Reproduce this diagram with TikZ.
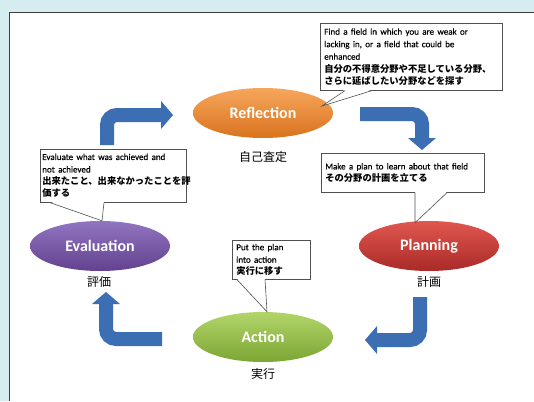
\documentclass[tikz,border=0pt]{standalone}
\usepackage{fontspec}
\setmainfont{Carlito}
\newfontfamily\ennote[FakeBold=0.4]{Carlito}
\newfontfamily\jp{Noto Sans CJK JP}
\usepackage{tikz}
\usetikzlibrary{calc,arrows.meta}
\usetikzlibrary{shapes.geometric}
\usetikzlibrary{positioning}

\definecolor{panelblue}{HTML}{D5ECF1}
\definecolor{cycblue}{HTML}{3C6EB4}
\definecolor{notegray}{HTML}{505050}

\newcommand{\entxt}{\ennote\fontsize{9}{12.5}\selectfont}
\newcommand{\jptxt}{\jp\bfseries\fontsize{9.3}{12.5}\selectfont}

\begin{document}
\begin{tikzpicture}[x=1pt, y=-1pt,
  ell/.style={ellipse, minimum width=140pt, minimum height=50pt, inner sep=0pt,
    text=white, font=\fontsize{16}{18}\selectfont\bfseries},
  note/.style={draw=notegray, line width=0.6pt, fill=white, anchor=north west,
    align=left, inner xsep=4pt, inner ysep=3pt},
  jlab/.style={font=\jp\fontsize{12}{14}\selectfont, inner sep=0pt},
  cyc/.style={draw=cycblue, line width=14pt, rounded corners=10pt,
    -{Triangle[length=12pt, width=28pt, line width=0pt]}}]

%% page and panel
\useasboundingbox (0,0) rectangle (534,401);
\fill[panelblue] (0,0) rectangle (534,401);
\fill[white] (9,12) rectangle (534,401);
\draw[black!75, line width=0.8pt] (534,12) -- (9,12) -- (9,401);

%% the four stages
\node[ell, top color={rgb,255:red,246;green,166;blue,92}, middle color={rgb,255:red,238;green,138;blue,48},
  bottom color={rgb,255:red,217;green,115;blue,30}] (refl) at (263,113) {Reflection};
\node[ell, top color={rgb,255:red,224;green,87;blue,79}, middle color={rgb,255:red,209;green,60;blue,54},
  bottom color={rgb,255:red,169;green,42;blue,40}] (plan) at (429,246) {Planning};
\node[ell, top color={rgb,255:red,146;green,117;blue,192}, middle color={rgb,255:red,125;green,88;blue,170},
  bottom color={rgb,255:red,98;green,65;blue,142}] (eval) at (100,246) {Evaluation};
\node[ell, top color={rgb,255:red,178;green,213;blue,106}, middle color={rgb,255:red,154;green,196;blue,74},
  bottom color={rgb,255:red,124;green,166;blue,51}] (act) at (263,337) {Action};

\node[jlab] (reflj) at (263,157) {自己査定};
\node[jlab] (planj) at (429,282) {計画};
\node[jlab] (evalj) at (99,282) {評価};
\node[jlab] (actj) at (263,374) {実行};

%% cycle arrows
\coordinate (c1a) at (107,145);
\coordinate (c1b) at (173,115);
\coordinate (c2a) at (360,114);
\coordinate (c2b) at (422,150);
\coordinate (c3a) at (420,297);
\coordinate (c3b) at (365,340);
\coordinate (c4a) at (162,339);
\coordinate (c4b) at (106,292);
\draw[cyc] (c1a) |- (c1b);
\draw[cyc] (c2a) -| (c2b);
\draw[cyc] (c3a) |- (c3b);
\draw[cyc] (c4a) -| (c4b);

%% notes
\node[note, text width=174pt, minimum height=67pt] (reflbox) at (320,23)
  {\entxt Find a field in which you are weak or\\ lacking in, or a field that could be\\ enhanced\\
   \jptxt 自分の不得意分野や不足している分野、\\ さらに延ばしたい分野などを探す};
\node[note, text width=142pt, inner xsep=2pt, minimum height=53pt] (evalbox) at (40,149)
  {\entxt Evaluate what was achieved and\\ not achieved\\
   \jptxt 出来たこと、出来なかったことを評\\ 価する};
\node[note, text width=155pt, minimum height=39pt] (planbox) at (321,153)
  {\entxt Make a plan to learn about that field\\ \jptxt その分野の計画を立てる};
\node[note, text width=70pt, minimum height=39pt] (actbox) at (232,240)
  {\entxt Put the plan\\ into action\\ \jptxt 実行に移す};

\coordinate (refltip) at ($(refl.center)+(59,-7)$);
\coordinate (reflb1) at ($(reflbox.south west)+(25,0)$);
\coordinate (reflb2) at ($(reflbox.south west)+(52,0)$);
\coordinate (evaltip) at ($(eval.north)+(2,0)$);
\coordinate (evalb1) at ($(evalbox.south west)+(10,0)$);
\coordinate (evalb2) at ($(evalbox.south west)+(64,0)$);
\coordinate (plantip) at ($(plan.north)+(-14,2)$);
\coordinate (planb1) at ($(planbox.south west)+(94,0)$);
\coordinate (planb2) at ($(planbox.south west)+(126,0)$);
\coordinate (acttip) at ($(act.north)+(4,0)$);
\coordinate (actb1) at ($(actbox.south west)+(5,0)$);
\coordinate (actb2) at ($(actbox.south west)+(33,0)$);

\foreach \s in {refl,eval,plan,act}{
  \fill[white] ($(\s b1)+(0,-1)$) -- (\s tip) -- ($(\s b2)+(0,-1)$) -- cycle;
  \draw[notegray, line width=0.6pt] (\s b1) -- (\s tip) -- (\s b2);
}
\end{tikzpicture}
\end{document}
